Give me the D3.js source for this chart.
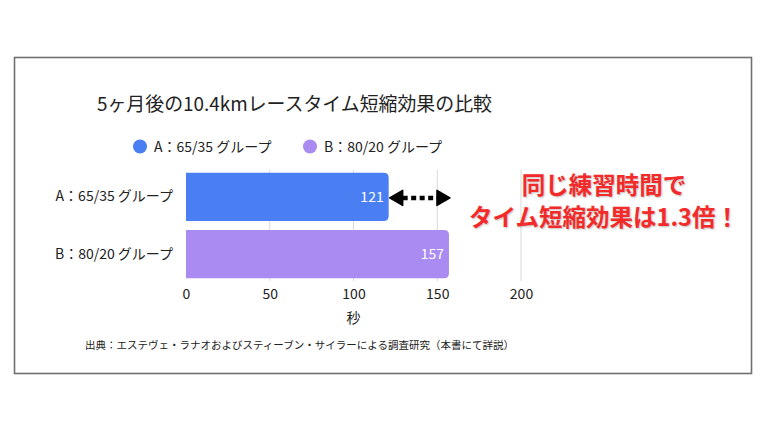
<!DOCTYPE html>
<html>
<head>
<meta charset="utf-8">
<script src="https://cdn.jsdelivr.net/npm/d3@7"></script>
<style>
  body { margin: 0; background: #fff; }
  svg { display: block; font-family: "Noto Sans CJK JP", "Noto Sans", sans-serif; }
</style>
</head>
<body>
<div id="chart"></div>
<script>
var categories = ['A：65/35 グループ', 'B：80/20 グループ'];
var values = [121, 157];
var colors = ['#4a7ff4', '#aa8bf2'];
var tickValues = [0, 50, 100, 150, 200];
var title = '5ヶ月後の10.4kmレースタイム短縮効果の比較';
var axisTitle = '秒';
var noteLines = ['同じ練習時間で', 'タイム短縮効果は1.3倍！'];
var source = '出典：エステヴェ・ラナオおよびスティーブン・サイラーによる調査研究（本書にて詳説）';

var w = 768, h = 432;
var svg = d3.select('#chart').append('svg').attr('width', w).attr('height', h);

svg.append('rect')
  .attr('x', 14.5).attr('y', 57.5)
  .attr('width', 737).attr('height', 316)
  .attr('fill', '#fff')
  .attr('stroke', '#707070')
  .attr('stroke-width', 1.6);

var x = d3.scaleLinear().domain([0, 200]).range([186, 521]);
var y = d3.scaleBand().domain(categories).range([170, 281]).paddingInner(0.16).paddingOuter(0.05);

svg.append('text')
  .attr('x', 97).attr('y', 111)
  .attr('font-size', 18.9).attr('fill', '#222')
  .text(title);

// legend
var legend = svg.selectAll('.legend').data(categories).enter().append('g')
  .attr('transform', function(d, i) { return 'translate(' + (140 + i * 170) + ',146.5)'; });
legend.append('circle').attr('r', 7).attr('fill', function(d, i) { return colors[i]; });
legend.append('text')
  .attr('x', 14).attr('y', 5)
  .attr('font-size', 14).attr('fill', '#222')
  .text(function(d) { return d; });

// gridlines
svg.selectAll('.grid').data(tickValues.slice(1)).enter().append('line')
  .attr('x1', function(d) { return x(d); }).attr('x2', function(d) { return x(d); })
  .attr('y1', 170).attr('y2', 281)
  .attr('stroke', '#d8d8d8').attr('stroke-width', 1);

var xAxis = svg.append('g')
  .attr('transform', 'translate(0,281)')
  .call(d3.axisBottom(x).tickValues(tickValues).tickSize(0).tickPadding(8))
  .attr('font-family', null).attr('font-size', null);
xAxis.select('.domain').remove();
xAxis.selectAll('text').attr('font-size', 14).attr('fill', '#222');

svg.append('text')
  .attr('x', (x(0) + x(200)) / 2).attr('y', 323)
  .attr('text-anchor', 'middle')
  .attr('font-size', 14).attr('fill', '#222')
  .text(axisTitle);

var yAxis = svg.append('g')
  .attr('transform', 'translate(173,0)')
  .call(d3.axisLeft(y).tickSize(0).tickPadding(0))
  .attr('font-family', null).attr('font-size', null);
yAxis.select('.domain').remove();
yAxis.selectAll('text').attr('font-size', 14).attr('fill', '#222');

// bars, square on the left, rounded on the right
var r = 5;
svg.selectAll('.bar').data(values).enter().append('path')
  .attr('fill', function(d, i) { return colors[i]; })
  .attr('d', function(d, i) {
    var x0 = x(0), x1 = x(d), y0 = y(categories[i]), bh = y.bandwidth();
    return 'M' + x0 + ',' + y0 + 'H' + (x1 - r) + 'Q' + x1 + ',' + y0 + ' ' + x1 + ',' + (y0 + r) +
      'V' + (y0 + bh - r) + 'Q' + x1 + ',' + (y0 + bh) + ' ' + (x1 - r) + ',' + (y0 + bh) + 'H' + x0 + 'Z';
  });

svg.selectAll('.val').data(values).enter().append('text')
  .attr('x', function(d) { return x(d) - 5; })
  .attr('y', function(d, i) { return y(categories[i]) + y.bandwidth() / 2 + 5; })
  .attr('text-anchor', 'end')
  .attr('font-size', 14).attr('fill', '#fff')
  .text(function(d) { return d; });

// dotted double arrow between the two bar ends
var ay = y(categories[0]) + y.bandwidth() / 2 + 1;
var ax0 = x(values[0]) + 1, ax1 = x(values[1]) + 1;
svg.append('line')
  .attr('x1', ax0 + 13).attr('x2', ax1 - 13)
  .attr('y1', ay).attr('y2', ay)
  .attr('stroke', '#000').attr('stroke-width', 4.5)
  .attr('stroke-dasharray', '5,3.5');
svg.append('path')
  .attr('fill', '#000').attr('stroke', '#000').attr('stroke-width', 1.5).attr('stroke-linejoin', 'round')
  .attr('d', 'M' + ax0 + ',' + ay + 'L' + (ax0 + 13) + ',' + (ay - 7.5) + 'V' + (ay + 7.5) + 'Z' +
    'M' + ax1 + ',' + ay + 'L' + (ax1 - 13) + ',' + (ay - 7.5) + 'V' + (ay + 7.5) + 'Z');

svg.selectAll('.note').data(noteLines).enter().append('text')
  .attr('x', 604)
  .attr('y', function(d, i) { return 194 + i * 32; })
  .attr('text-anchor', 'middle')
  .attr('font-size', 23.5).attr('font-weight', 'bold')
  .attr('fill', '#f42a2a')
  .style('text-shadow', '1px 1px 2px rgba(0,0,0,0.25)')
  .text(function(d) { return d; });

svg.append('text')
  .attr('x', 85).attr('y', 349)
  .attr('font-size', 10.5).attr('fill', '#222')
  .text(source);
</script>
</body>
</html>
